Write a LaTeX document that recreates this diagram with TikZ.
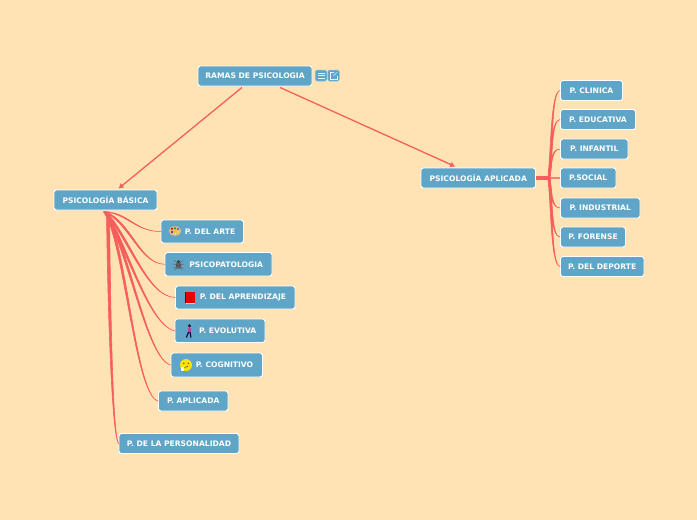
\documentclass[tikz,border=0pt]{standalone}
\usepackage{fontspec}
\setmainfont{DejaVu Sans}
\usetikzlibrary{calc,arrows.meta}
\definecolor{bgc}{HTML}{FFE3B4}
\definecolor{boxc}{HTML}{5FA5C8}
\definecolor{linkc}{HTML}{F65E5E}
\tikzset{
  topicbox/.style={fill=boxc,draw=white,line width=0.9pt,rounded corners=2.5pt,text=white,
    font=\fontsize{7.6}{8}\selectfont\bfseries,inner sep=0pt,align=center,anchor=center},
  mainlink/.style={draw=linkc,line width=1.3pt,-{Latex[length=5pt,width=6pt]},shorten >=0pt},
  taper/.style={fill=linkc,draw=linkc,line width=0.6pt,line join=round},
  toolbtn/.style={fill=boxc,draw=boxc!70!white,line width=0.5pt,rounded corners=1.5pt,inner sep=0pt,minimum width=11.5pt,minimum height=11pt},
  glyphline/.style={draw=white!85!boxc,line width=0.6pt}
}
% \bx{name}{x1}{y1}{x2}{y2}{text}
\newcommand{\bx}[6]{\node[topicbox,minimum width={(#4-#2)*1pt},minimum height={(#5-#3)*1pt}] (#1) at ({(#2+#4)/2},{(#3+#5)/2}) {\raisebox{-0.7pt}{#6}};}
% \taperlink{from}{c1}{c2}{to}{half width: dx,dy}: the width falls off along the curve
\newcommand{\taperlink}[5]{\fill[taper] ($#1+(#5)$) .. controls ($#2+(#5)$) and ($#3+0.35*(#5)$) .. #4 .. controls ($#3-0.35*(#5)$) and ($#2-(#5)$) .. ($#1-(#5)$) -- cycle;}
\newcommand{\ic}{\hspace*{15.5pt}}
\begin{document}
\begin{tikzpicture}[x=1pt,y=-1pt]
\useasboundingbox (0,0) rectangle (697,520);
\fill[bgc] (0,0) rectangle (697,520);

\bx{root}{198}{66}{312}{86}{RAMAS DE PSICOLOGIA}
\bx{basic}{54}{190}{157}{210}{PSICOLOGÍA BÁSICA}
\bx{appl}{421}{168}{535.5}{188}{PSICOLOGÍA APLICADA}
\bx{arte}{161}{220}{243.5}{243}{\ic P. DEL ARTE}
\bx{psico}{165}{252.5}{272}{276}{\ic PSICOPATOLOGIA}
\bx{apren}{175.5}{286}{295}{309}{\ic P. DEL APRENDIZAJE}
\bx{evol}{175}{319}{265}{342.5}{\ic P. EVOLUTIVA}
\bx{cogn}{171}{353}{262.5}{377}{\ic P. COGNITIVO}
\bx{aplic}{158.5}{391}{228}{411}{P. APLICADA}
\bx{pers}{119}{433.5}{239}{453.5}{P. DE LA PERSONALIDAD}
\bx{clin}{560.5}{80.5}{622.5}{100.5}{P. CLINICA}
\bx{educ}{560.5}{109.5}{635.5}{129.5}{P. EDUCATIVA}
\bx{infa}{560.5}{139}{628}{159}{P. INFANTIL}
\bx{soci}{560.5}{168}{616}{188}{P.SOCIAL}
\bx{indu}{560.5}{198}{640}{218}{P. INDUSTRIAL}
\bx{fore}{560.5}{227}{625.5}{247}{P. FORENSE}
\bx{depo}{560.5}{256.5}{644}{276.5}{P. DEL DEPORTE}

% main connectors
\coordinate (rootL) at ($(root.south)+(-13,1)$);
\coordinate (rootR) at ($(root.south)+(25,1)$);
\coordinate (basicT) at ($(basic.north)+(13,-1)$);
\coordinate (applT) at ($(appl.north)+(-23,-1)$);
\draw[mainlink] (rootL) -- (basicT);
\draw[mainlink] (rootR) -- (applT);

% left branches
\coordinate (bs) at ($(basic.south)+(-0.5,1.5)$);
\taperlink{(bs)}{(128,213)}{(135,231.5)}{(arte.west)}{1.1,0}
\taperlink{(bs)}{(130,222)}{(140,264)}{(psico.west)}{1.2,0}
\taperlink{(bs)}{(128,235)}{(147,297)}{(apren.west)}{1.2,0}
\taperlink{(bs)}{(125,240)}{(148,325)}{(evol.west)}{1.2,0}
\taperlink{(bs)}{(128,245)}{(146,358)}{(cogn.west)}{1.2,0}
\taperlink{(bs)}{(125,240)}{(135,395)}{(aplic.west)}{1.2,0}
\taperlink{($(bs)+(3,0)$)}{(109,300)}{(112,435)}{(pers.west)}{1.5,0}

% right branches
\coordinate (hub) at ($(appl.east)+(13,0)$);
\draw[draw=linkc,line width=3.2pt] (appl.east) -- (hub);
\taperlink{(hub)}{(552,150)}{(551,91)}{(clin.west)}{1,0}
\taperlink{(hub)}{(552,155)}{(551,120)}{(educ.west)}{1,0}
\taperlink{(hub)}{(551,165)}{(551,149)}{(infa.west)}{1,0}
\draw[draw=linkc!75!bgc,line width=1.4pt] (hub) -- (soci.west);
\taperlink{(hub)}{(551,190)}{(551,208)}{(indu.west)}{1,0}
\taperlink{(hub)}{(552,200)}{(551,237)}{(fore.west)}{1,0}
\taperlink{(hub)}{(552,205)}{(551,266)}{(depo.west)}{1,0}

% toolbar buttons
\node[toolbtn] (menu) at (321,75.5) {};
\node[toolbtn] (open) at (333.5,75.5) {};
\draw[glyphline] (317.5,72.8) -- (324.5,72.8) (317.5,75.5) -- (324.5,75.5) (317.5,78.2) -- (324.5,78.2);
\draw[glyphline,line width=0.5pt] (334,72.5) -- (330.5,72.5) -- (330.5,78.8) -- (336.8,78.8) -- (336.8,75.5);
\draw[glyphline,line width=0.5pt] (333.5,75.8) -- (336.8,72.3);

% palette icon
\fill[fill={rgb,255:red,224;green,190;blue,120}] (175,231) ellipse (6.3 and 4.8);
\fill[red!80!black] (172,228.8) circle (1.1);
\fill[green!60!black] (175,228.2) circle (1.1);
\fill[blue!70!white] (178,229) circle (1.1);
\fill[violet] (172,232) circle (1.1);
\fill[yellow!90!orange] (178,232) circle (1.1);
\fill[white!85!black] (175,233.6) circle (1);
% spider icon
\fill[black!70] (178.5,265.5) ellipse (2.6 and 3.2);
\fill[black!80] (178.5,261.6) circle (1.5);
\draw[black!60,line width=0.5pt] (174,260) -- (178.5,264) -- (183,260) (173,264) -- (178.5,265) -- (184,264)
  (173.5,268.5) -- (178.5,266) -- (183.5,268.5) (175,270) -- (178.5,267) -- (182,270);
% book icon
\fill[red!45!black] (185,292) rectangle (186.3,303);
\fill[red!90!black] (186,292) rectangle (194.5,302.5);
\fill[white!85!black] (186,302.5) rectangle (194.5,303.3);
% person icon
\fill[black!75!brown] (189.5,325.8) circle (1.7);
\fill[violet!70!white] (187.6,327.5) rectangle (190.8,332.5);
\draw[black!75!blue,line width=1.1pt] (188.6,332) -- (186.3,337.5) (190,332) -- (191,337.5);
% thinking face icon
\fill[yellow!85!orange] (186,365) circle (6);
\fill[black!70] (183.8,363.3) circle (0.8) (188.3,363.3) circle (0.8);
\draw[black!70,line width=0.6pt] (184.5,367.5) -- (188,366.3);
\fill[white!90!orange] (181,367) rectangle (184,371);
\end{tikzpicture}
\end{document}
